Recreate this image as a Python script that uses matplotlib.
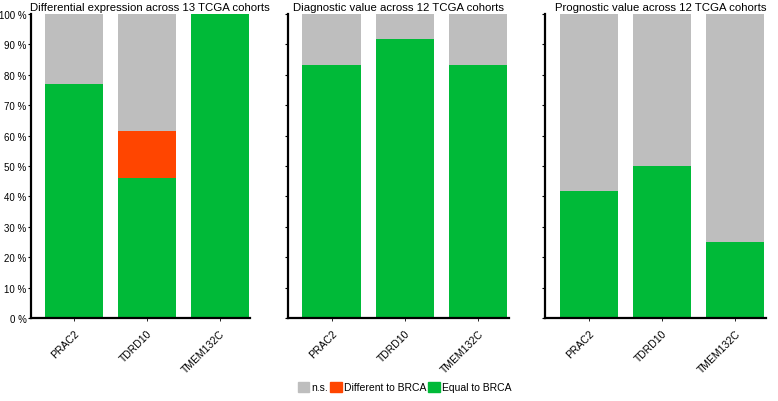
import matplotlib
matplotlib.use("Agg")
import matplotlib.pyplot as plt
from matplotlib.patches import Patch
import numpy as np

plt.rcParams["font.family"] = ["Liberation Sans", "DejaVu Sans"]

genes = ["PRAC2", "TDRD10", "TMEM132C"]
titles = [
    "Differential expression across 13 TCGA cohorts",
    "Diagnostic value across 12 TCGA cohorts",
    "Prognostic value across 12 TCGA cohorts",
]
n_cohorts = [13, 12, 12]
# cohort counts per gene
equal_counts = [[10, 6, 13], [10, 11, 10], [5, 6, 3]]
different_counts = [[0, 2, 0], [0, 0, 0], [0, 0, 0]]

GREY = "#BEBEBE"
ORANGE = "#FF4500"
GREEN = "#00BA38"

fig = plt.figure(figsize=(7.78, 4.02), dpi=100)
lefts = [0.0395, 0.370, 0.7005]
widths = [0.282, 0.284, 0.284]
title_x = [0.545, 0.502, 0.525]
x = np.arange(len(genes))

for i, left in enumerate(lefts):
    ax = fig.add_axes([left, 0.2065, widths[i], 0.756])
    eq = np.array(equal_counts[i]) / n_cohorts[i] * 100
    diff = np.array(different_counts[i]) / n_cohorts[i] * 100
    ns = 100 - eq - diff
    ax.bar(x, eq, width=0.8, color=GREEN)
    ax.bar(x, diff, width=0.8, bottom=eq, color=ORANGE)
    ax.bar(x, ns, width=0.8, bottom=eq + diff, color=GREY)
    ax.set_xlim(-0.6, 2.42)
    ax.set_ylim(0, 100)
    ax.set_yticks(np.arange(0, 101, 10))
    if i == 0:
        ax.set_yticklabels([f"{v} %" for v in range(0, 101, 10)], fontsize=7)
    else:
        ax.set_yticklabels([])
    ax.set_xticks(x)
    ax.set_xticklabels(genes, rotation=45, ha="right", rotation_mode="anchor", fontsize=7.5)
    ax.tick_params(axis="x", length=2, width=0.6, pad=5)
    ax.tick_params(axis="y", length=2, width=0.8, pad=1)
    for s in ("top", "right"):
        ax.spines[s].set_visible(False)
    for s in ("left", "bottom"):
        ax.spines[s].set_linewidth(1.6)
    ax.set_title(titles[i], fontsize=8.2, pad=3, x=title_x[i])

handles = [Patch(color=GREY, label="n.s."),
           Patch(color=ORANGE, label="Different to BRCA"),
           Patch(color=GREEN, label="Equal to BRCA")]
fig.legend(handles=handles, loc="center", bbox_to_anchor=(0.52, 0.035), ncol=3,
           frameon=False, fontsize=7.5, handlelength=1.1, handleheight=1.1,
           handletextpad=0.2, columnspacing=0.2, borderaxespad=0)

fig.savefig("out.png", dpi=100)
